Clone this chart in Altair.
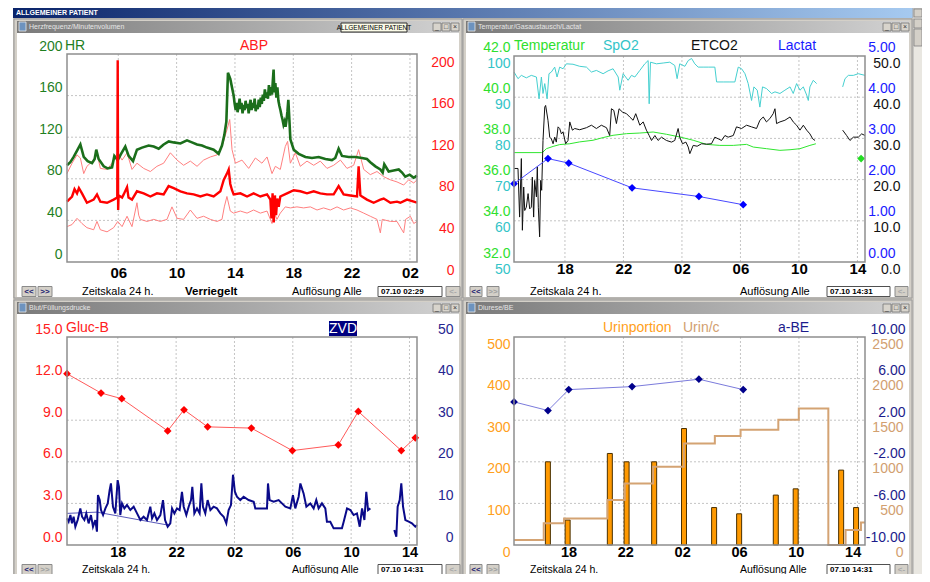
import altair as alt
import pandas as pd

FONT = "Liberation Sans"
W, H = 914, 566

# ---------------------------------------------------------------- data
# time values are hours since 06.10 00:00 (so 26 = 07.10 02:00)
HR_T = [2.48, 2.71, 2.94, 3.21, 3.40, 3.63, 3.90, 4.20, 4.38, 4.49, 4.65, 5.00, 5.27, 5.57, 5.73, 5.96, 6.19, 6.48, 6.71, 7.01,
        7.28, 7.63, 8.08, 8.43, 8.77, 9.11, 9.46, 9.80, 10.26, 10.71, 11.05, 11.40, 11.74, 12.08, 12.54, 12.88, 13.11, 13.27, 13.41, 13.52, 13.68,
        13.91, 13.98, 14.05, 14.12, 14.18, 14.25, 14.32, 14.38, 14.45, 14.52, 14.60, 14.66, 14.73, 14.80, 14.87, 14.94, 15.00, 15.07, 15.14, 15.21,
        15.28, 15.35, 15.42, 15.49, 15.56, 15.63, 15.70, 15.77, 15.84, 15.91, 15.98, 16.05, 16.12, 16.19, 16.26, 16.33, 16.40, 16.47, 16.54, 16.60,
        16.65, 16.70, 16.77, 16.84, 16.91, 16.98, 17.05, 17.12, 17.19, 17.26, 17.33, 17.40, 17.47, 17.54, 17.60, 17.66, 17.72, 17.80,
        18.03, 18.37, 18.83, 19.28, 19.74, 20.20, 20.65, 20.88, 21.11, 21.34, 21.80, 22.26, 22.71, 23.05, 23.28, 23.63, 23.97, 24.13, 24.24, 24.54,
        24.88, 25.23, 25.46, 25.68, 25.98, 26.26, 26.48]
HR_V = [93, 96, 101, 108, 113, 101, 97, 95, 99, 108, 99, 92, 90, 91, 102, 98, 104, 111, 102, 97,
        108, 110, 112, 111, 109, 113, 116, 115, 114, 117, 115, 113, 112, 110, 108, 104, 112, 122, 135, 182, 176,
        160, 152, 146, 153, 144, 150, 157, 147, 153, 143, 151, 146, 155, 148, 152, 143, 150, 156, 146, 153,
        148, 157, 145, 151, 147, 156, 149, 158, 152, 161, 155, 166, 158, 163, 157, 170, 160, 168, 161, 175,
        185, 163, 172, 158, 168, 155, 150, 146, 141, 137, 132, 135, 130, 137, 145, 156, 140, 118,
        108, 104, 101, 100, 101, 99, 98, 100, 109, 102, 101, 101, 100, 99, 96, 92, 89, 86, 94, 87,
        88, 89, 86, 82, 84, 81, 83]

ABPM_T = [2.48, 2.83, 3.00, 3.17, 3.30, 3.51, 3.85, 4.31, 4.54, 4.77, 5.23, 5.68, 5.93, 5.96, 5.99, 6.02, 6.26, 6.37, 6.60, 6.70,
          6.94, 7.28, 7.74, 8.20, 8.65, 9.11, 9.45, 9.80, 10.26, 10.71, 11.17, 11.63, 12.08, 12.54, 13.00, 13.23, 13.45, 13.57, 13.68, 13.80,
          13.91, 14.37, 14.83, 15.28, 15.74, 16.20, 16.43, 16.50, 16.58, 16.66, 16.74, 16.82, 16.90, 17.00, 17.11, 17.57, 18.03, 18.48, 18.94, 19.40,
          19.85, 20.31, 20.77, 21.11, 21.45, 21.91, 22.37, 22.48, 22.60, 22.71, 23.05, 23.51, 23.97, 24.20, 24.66, 25.11, 25.34, 25.80, 26.26, 26.48]
ABPM_V = [58, 63, 70, 66, 71, 66, 57, 60, 65, 58, 57, 60, 62, 194, 50, 64, 62, 65, 72, 62,
          60, 68, 66, 63, 66, 65, 73, 71, 68, 66, 65, 63, 65, 63, 68, 79, 85, 89, 75, 69,
          65, 66, 63, 66, 63, 65, 60, 42, 66, 38, 64, 45, 61, 53, 63, 66, 69, 68, 66, 68,
          66, 65, 65, 73, 65, 64, 63, 92, 64, 63, 60, 57, 60, 61, 57, 58, 57, 60, 58, 57]

ABPS_T = [2.48, 2.83, 3.17, 3.40, 3.63, 3.85, 4.31, 4.54, 4.77, 5.23, 5.57, 5.96, 6.26, 6.60, 6.94, 7.28, 7.74, 8.20, 8.65, 9.11,
          9.57, 10.03, 10.48, 10.94, 11.40, 11.85, 12.31, 12.77, 13.11, 13.45, 13.64, 13.80, 14.03, 14.48, 14.94, 15.40, 15.85, 16.20, 16.54, 16.77,
          17.11, 17.45, 17.61, 17.80, 18.14, 18.48, 18.94, 19.40, 19.85, 20.31, 20.77, 21.23, 21.68, 22.14, 22.48, 22.83, 23.28, 23.74, 24.20, 24.66,
          25.11, 25.57, 25.91, 26.26, 26.48]
ABPS_V = [85, 95, 103, 100, 85, 92, 98, 105, 90, 89, 95, 105, 98, 105, 89, 95, 90, 87, 92, 95,
          105, 98, 93, 97, 92, 98, 101, 103, 111, 127, 137, 108, 95, 98, 90, 100, 95, 101, 85, 92,
          89, 111, 116, 95, 105, 92, 97, 93, 97, 90, 93, 98, 90, 93, 108, 89, 84, 87, 82, 79,
          77, 74, 79, 76, 79]

ABPD_T = [2.48, 2.83, 3.17, 3.51, 3.85, 4.31, 4.54, 4.77, 5.23, 5.68, 5.96, 6.26, 6.60, 6.94, 7.28, 7.40, 7.51, 7.97, 8.43, 8.88,
          9.34, 9.68, 10.03, 10.48, 10.94, 11.40, 11.85, 12.31, 12.77, 13.11, 13.27, 13.45, 13.68, 13.91, 14.37, 14.83, 15.28, 15.74, 16.20, 16.54,
          16.70, 16.88, 17.11, 17.45, 17.80, 18.25, 18.71, 19.17, 19.63, 20.08, 20.54, 21.00, 21.45, 21.91, 22.37, 22.83, 23.28, 23.74, 23.97, 24.10,
          24.66, 25.11, 25.57, 25.70, 26.03, 26.26, 26.48]
ABPD_V = [34, 36, 42, 37, 33, 31, 39, 31, 29, 33, 39, 34, 44, 34, 57, 45, 41, 39, 41, 39,
          41, 53, 42, 41, 50, 42, 44, 41, 39, 41, 53, 63, 49, 47, 49, 47, 50, 47, 49, 37,
          47, 41, 47, 53, 52, 53, 52, 53, 50, 52, 50, 53, 50, 52, 50, 47, 44, 41, 28, 41,
          39, 39, 28, 41, 44, 37, 39]

SPO2_T1 = [14.52, 14.79, 15.02, 15.36, 15.70, 16.05, 16.23, 16.39, 16.50, 16.62, 16.78, 16.91, 17.07, 17.30, 17.46, 17.64, 17.87, 18.10, 18.55, 19.01,
           19.47, 19.81, 20.15, 20.61, 20.95, 21.29, 21.64, 21.75, 21.98, 22.32, 22.55, 22.78, 23.12, 23.46, 23.69, 23.76, 23.85, 24.26, 24.72, 25.17,
           25.51, 25.67, 25.85, 26.20, 26.43, 26.66, 26.88, 27.11, 27.45, 27.80, 28.25, 28.37, 28.82, 29.28, 29.62, 29.85, 30.08, 30.31, 30.53, 30.76,
           30.92, 31.15, 31.33, 31.51, 31.78, 32.13, 32.36, 32.70, 33.04, 33.39, 33.61, 33.84, 34.07, 34.30, 34.53, 34.64, 34.75, 34.98, 35.21]
SPO2_V1 = [96.1, 94.5, 95.3, 94.7, 95.3, 94.9, 89.6, 94.9, 90.9, 93.3, 89.6, 95.7, 96.1, 97.3, 94.9, 97.3, 96.9, 98.1, 98.0, 97.5,
           97.3, 96.1, 96.5, 95.7, 96.4, 96.9, 94.9, 91.7, 95.7, 94.1, 95.3, 94.9, 96.5, 98.1, 98.9, 88.4, 98.5, 98.1, 98.3, 98.5,
           97.7, 94.5, 98.1, 97.5, 98.9, 99.4, 98.1, 97.3, 97.3, 97.3, 97.3, 93.7, 93.7, 93.7, 93.7, 97.3, 96.9, 95.7, 93.3, 89.2,
           92.5, 91.7, 87.6, 92.5, 92.1, 90.9, 91.3, 90.9, 91.7, 92.5, 90.9, 93.3, 91.7, 92.5, 90.5, 89.2, 92.5, 94.1, 93.3]
SPO2_T2 = [36.99, 37.15, 37.38, 37.72, 38.06, 38.52]
SPO2_V2 = [92.5, 94.5, 95.3, 95.3, 95.7, 95.3]

ETCO2_T1 = [14.52, 14.79, 14.90, 15.02, 15.09, 15.18, 15.25, 15.36, 15.48, 15.59, 15.70, 15.77, 15.86, 15.93, 16.05, 16.11, 16.18, 16.27, 16.34, 16.41,
            16.50, 16.62, 16.68, 16.84, 16.96, 17.07, 17.19, 17.30, 17.41, 17.53, 17.64, 17.76, 17.87, 18.05, 18.21, 18.33, 18.51, 18.67, 19.01, 19.47,
            19.81, 20.15, 20.49, 20.84, 21.06, 21.18, 21.34, 21.52, 21.70, 21.93, 22.21, 22.43, 22.66, 22.84, 23.12, 23.35, 23.57, 23.76, 23.92, 24.15,
            24.37, 24.60, 24.94, 25.29, 25.51, 25.74, 25.85, 26.04, 26.27, 26.43, 26.54, 26.77, 27.04, 27.34, 27.68, 28.02, 28.25, 28.48, 28.71, 28.94,
            29.16, 29.51, 29.73, 30.08, 30.42, 30.76, 31.10, 31.33, 31.56, 31.78, 32.01, 32.24, 32.36, 32.47, 32.70, 33.04, 33.39, 33.61, 33.84, 34.07,
            34.30, 34.53, 34.75, 34.94, 35.10]
ETCO2_V1 = [22.7, 22.7, 10.9, 25.1, 7.7, 18.2, 12.5, 13.3, 16.6, 12.9, 13.3, 20.6, 10.9, 19.8, 15.8, 23.1, 13.3, 6.1, 19.8, 17.4,
            29.5, 37.6, 38.0, 34.4, 30.3, 29.9, 28.7, 30.3, 29.1, 32.8, 32.4, 31.1, 31.6, 28.7, 29.5, 34.0, 32.0, 32.4, 32.1, 32.6,
            33.2, 32.4, 33.2, 32.6, 30.7, 37.2, 36.8, 33.6, 37.2, 36.4, 36.0, 35.2, 34.4, 36.0, 33.2, 34.0, 32.0, 30.7, 29.5, 30.7,
            29.5, 30.3, 29.5, 29.1, 29.5, 32.4, 30.3, 28.7, 29.1, 27.9, 26.3, 28.3, 28.1, 28.7, 28.6, 28.7, 30.3, 29.9, 29.5, 30.7,
            30.3, 30.7, 32.8, 32.4, 33.2, 32.8, 32.4, 34.4, 35.2, 34.0, 34.8, 36.0, 37.2, 33.6, 34.0, 34.4, 35.2, 34.0, 33.2, 32.0,
            33.2, 32.0, 31.1, 29.9, 29.5]
ETCO2_T2 = [36.99, 37.26, 37.49, 37.72, 38.06, 38.29, 38.52]
ETCO2_V2 = [32.0, 30.7, 29.5, 30.3, 30.3, 31.1, 30.7]

TEMP_T = [14.52, 16.39, 16.50, 16.73, 17.19, 17.64, 18.33, 19.01, 19.92, 20.61, 21.29, 22.21, 23.12, 24.03, 24.94, 25.85, 26.77, 27.68, 28.59, 29.51,
          30.42, 30.88, 31.79, 32.70, 33.39, 34.07, 34.75, 35.16]
TEMP_V = [37.31, 37.31, 37.34, 37.50, 37.61, 37.70, 37.74, 37.83, 37.91, 38.04, 38.15, 38.23, 38.26, 38.31, 38.20, 38.07, 37.91, 37.71, 37.66, 37.66,
          37.71, 37.58, 37.50, 37.42, 37.45, 37.50, 37.66, 37.74]
TEMP_PT_T = [38.25]
TEMP_PT_V = [37.02]

LACT_T = [14.52, 16.84, 18.26, 22.59, 27.16, 30.19]
LACT_V = [1.90, 2.51, 2.40, 1.80, 1.59, 1.39]

GLUC_T = [14.52, 16.85, 18.27, 21.42, 22.54, 24.16, 27.16, 29.97, 33.12, 34.49, 37.44, 38.40]
GLUC_V = [12.35, 10.96, 10.55, 8.23, 9.75, 8.52, 8.43, 6.81, 7.22, 9.63, 6.81, 7.73]

ZVD_T1 = [14.52, 14.63, 14.75, 14.86, 14.97, 15.09, 15.25, 15.43, 15.55, 15.71,
          15.84, 16.00, 16.16, 16.30, 16.46, 16.57, 16.64, 16.76, 16.85, 16.99,
          17.15, 17.31, 17.44, 17.53, 17.67, 17.83, 17.99, 18.08, 18.17, 18.29,
          18.45, 18.63, 18.86, 19.09, 19.32, 19.55, 19.77, 20.00, 20.23, 20.35,
          20.51, 20.69, 20.92, 21.10, 21.24, 21.42, 21.60, 21.72, 21.88, 22.06,
          22.24, 22.40, 22.52, 22.70, 22.86, 23.02, 23.11, 23.25, 23.43, 23.61,
          23.73, 23.84, 24.00, 24.16, 24.35, 24.57, 24.80, 25.03, 25.26, 25.44,
          25.60, 25.76, 25.90, 26.03, 26.17, 26.40, 26.63, 26.97, 27.32, 27.43,
          27.77, 28.23, 28.30, 28.41, 28.69, 29.03, 29.26, 29.49, 29.83, 30.01,
          30.17, 30.40, 30.52, 30.74, 30.93, 31.20, 31.43, 31.61, 31.77, 32.00,
          32.23, 32.34, 32.57, 32.80, 33.15, 33.37, 33.49, 33.72, 33.95, 34.17,
          34.40, 34.59, 34.75, 34.91, 35.04, 35.16, 35.32]
ZVD_V1 = [6.4, 5.6, 7.2, 5.2, 6.8, 4.4, 6.0, 8.8, 6.8, 6.0,
          7.6, 5.2, 7.2, 4.4, 6.0, 3.2, 12.0, 10.8, 8.4, 7.2,
          8.8, 10.0, 13.2, 14.8, 9.2, 7.6, 15.6, 14.0, 7.2, 10.0,
          8.8, 9.6, 8.4, 9.2, 7.6, 6.0, 6.8, 6.0, 9.2, 6.4,
          7.6, 6.0, 7.2, 10.8, 6.0, 4.4, 5.2, 8.8, 7.6, 8.8,
          8.4, 12.8, 9.2, 7.2, 9.2, 10.8, 14.0, 7.6, 8.8, 7.6,
          14.8, 9.2, 7.6, 10.8, 8.4, 9.2, 8.8, 7.6, 6.8, 5.2,
          8.4, 9.6, 16.9, 12.8, 11.6, 10.8, 11.6, 10.8, 10.4, 8.8,
          8.8, 8.8, 14.8, 10.8, 10.4, 10.8, 10.0, 9.2, 8.8, 12.0,
          8.8, 11.6, 14.8, 12.4, 9.2, 10.0, 8.8, 10.8, 8.8, 10.0,
          8.8, 5.6, 5.6, 4.0, 4.0, 4.0, 5.6, 8.8, 8.4, 7.2,
          7.6, 4.4, 8.8, 6.0, 12.8, 8.4, 8.8]
ZVD_T2 = [36.96, 37.10, 37.19, 37.33, 37.44, 37.56, 37.72, 37.95, 38.17, 38.40, 38.52]
ZVD_V2 = [3.6, 2.0, 9.2, 10.8, 14.8, 9.2, 6.0, 5.6, 5.2, 4.4, 4.8]
ZVD_MAN_T = [14.52, 16.57, 21.42]
ZVD_MAN_V = [7.6, 7.9, 4.8]

URIN_T = [16.55, 17.94, 20.91, 22.09, 24.03, 26.13, 28.25, 30.01, 32.59, 33.99, 37.19, 38.24]
URIN_V = [200, 60, 220, 200, 200, 280, 90, 75, 120, 135, 180, 90]
URINC_T = [14.52, 16.55, 17.94, 20.91, 22.09, 24.03, 26.13, 28.25, 30.01, 32.59, 33.99, 36.01, 37.19, 38.24, 38.52]
URINC_V = [60, 260, 320, 540, 740, 940, 1220, 1310, 1385, 1505, 1640, 0, 180, 270, 270]

ABE_T = [14.52, 16.84, 18.26, 22.59, 27.16, 30.19]
ABE_V = [3.76, 2.93, 4.94, 5.23, 5.94, 4.94]

X_TICKS_P1 = [6, 10, 14, 18, 22, 26]
X_TICKS = [18, 22, 26, 30, 34, 38]
HR_TICKS = [0, 40, 80, 120, 160, 200]
TEMP_TICKS = [32, 34, 36, 38, 40, 42]
SPO2_TICKS = [50, 60, 70, 80, 90, 100]
ETCO2_TICKS = [0, 10, 20, 30, 40, 50]
LACT_TICKS = [0, 1, 2, 3, 4, 5]
GLUC_TICKS = [0, 3, 6, 9, 12, 15]
ZVD_TICKS = [0, 10, 20, 30, 40, 50]
URIN_TICKS = [0, 100, 200, 300, 400, 500]
URINC_TICKS = [0, 500, 1000, 1500, 2000, 2500]
ABE_TICKS = [-10, -6, -2, 2, 6, 10]

# ---------------------------------------------------------------- helpers
def X(v):
    return v - 8


def Y(v):
    return v - 8


ONE = pd.DataFrame({"k": [0]})
LAYERS = []


def rect(x0, y0, x1, y1, fill=None, stroke=None, sw=1.0):
    kw = {}
    if fill is None:
        kw["fillOpacity"] = 0
    else:
        kw["fill"] = fill
    if stroke is not None:
        kw["stroke"] = stroke
        kw["strokeWidth"] = sw
    LAYERS.append(alt.Chart(ONE).mark_rect(**kw).encode(
        x=alt.value(X(x0)), x2=alt.value(X(x1)), y=alt.value(Y(y0)), y2=alt.value(Y(y1))))


def text(x, y, s, color="#000000", size=11, weight="normal", align="left"):
    LAYERS.append(alt.Chart(ONE).mark_text(
        text=s, color=color, fontSize=size, fontWeight=weight, align=align,
        baseline="middle", font=FONT).encode(x=alt.value(X(x)), y=alt.value(Y(y))))


def grad(c0, c1):
    return alt.LinearGradient(gradient="linear", x1=0, x2=1, y1=0, y2=0,
                              stops=[alt.GradientStop(color=c0, offset=0),
                                     alt.GradientStop(color=c1, offset=1)])


def sc(dom, r0, r1):
    return alt.Scale(domain=dom, range=[r0, r1], nice=False, zero=False)


def yaxis(side, edge, vals, color, pad, loff, fmt=None, expr=None):
    kw = dict(orient=side, values=vals, title=None, domain=False, ticks=False, tickSize=0, grid=False,
              labelColor=color, labelFont=FONT, labelFontSize=14, labelPadding=pad, labelOffset=loff,
              labelAlign="right", labelBaseline="middle", labelOverlap=False, labelFlush=False,
              labelBound=False, zindex=2)
    kw["offset"] = -X(edge) if side == "left" else X(edge) - W
    if fmt is not None:
        kw["format"] = fmt
    if expr is not None:
        kw["labelExpr"] = expr
    return alt.Axis(**kw)


def xaxis(bottom, vals, pad, size=15):
    return alt.Axis(orient="bottom", offset=Y(bottom) - H, values=vals, title=None, domain=False,
                    ticks=False, tickSize=0, grid=False, labelColor="#000000", labelFont=FONT,
                    labelFontSize=size, labelFontWeight="bold", labelPadding=pad, labelBaseline="middle",
                    labelAlign="center", labelOverlap=False, labelFlush=False, labelBound=False, zindex=2,
                    labelExpr="pad(toString(datum.value % 24), 2, '0', 'left')")


def series(T, V, xs, ys, kind="line", xax=None, yax=None, T2=None, V2=None, **mk):
    if T2 is not None:
        df = pd.DataFrame({"t": list(T) + list(T2), "v": list(V) + list(V2),
                           "seg": ["a"] * len(T) + ["b"] * len(T2)})
    else:
        df = pd.DataFrame({"t": T, "v": V})
    enc = dict(x=alt.X("t:Q", scale=xs, axis=xax), y=alt.Y("v:Q", scale=ys, axis=yax))
    if T2 is not None:
        enc["detail"] = alt.Detail("seg:N")
    base = alt.Chart(df)
    if kind == "line":
        m = base.mark_line(**mk)
    elif kind == "point":
        m = base.mark_point(shape="diamond", filled=True, opacity=1, **mk)
    else:
        m = base.mark_bar(**mk)
    LAYERS.append(m.encode(**enc))


def grid(xs, ys, xt, yt, l, t, r, b):
    gcol = "#c4c4c4"
    LAYERS.append(alt.Chart(pd.DataFrame({"t": xt})).mark_rule(
        color=gcol, strokeDash=[2, 2], strokeWidth=1).encode(
        x=alt.X("t:Q", scale=xs, axis=None), y=alt.value(Y(t)), y2=alt.value(Y(b))))
    LAYERS.append(alt.Chart(pd.DataFrame({"v": yt})).mark_rule(
        color=gcol, strokeDash=[2, 2], strokeWidth=1).encode(
        y=alt.Y("v:Q", scale=ys, axis=None), x=alt.value(X(l)), x2=alt.value(X(r))))


def button(x0, y0, x1, y1, s, tcol):
    rect(x0, y0, x1, y1, "#d4d0c8", "#8a8a8a", 1)
    text((x0 + x1) / 2, (y0 + y1) / 2 + 0.5, s, tcol, 8, "bold", "center")


def window(x0, y0, x1, y1, title, status_y, left_panel, date, locked=False, fs=11):
    rect(x0, y0, x1, y1, "#d4d0c8", "#9a9a9a", 1)
    rect(x0 + 3, y0 + 2, x1 - 3, y0 + 14, grad("#7a7a7a", "#d2d2d2"))
    rect(x0 + 5, y0 + 3, x0 + 12, y0 + 12, "#6d93bf", "#e8e8e8", 0.8)
    text(x0 + 15, y0 + 8, title, "#e6e6e6", 7)
    for i, g in enumerate(["_", "\u25a1", "\u00d7"]):
        bx = x1 - 29 + i * 9
        rect(bx, y0 + 4, bx + 8, y0 + 12, "#d8d4cc", "#777777", 0.8)
        text(bx + 4, y0 + 8, g, "#333333", 7, "normal", "center")
    rect(x0 + 3, y0 + 14, x1 - 3, y1 - 1, "#ffffff")
    # status bar
    sy = status_y
    if left_panel:
        button(22, sy - 5, 36, sy + 5, "<<", "#1a1a70")
        button(38, sy - 5, 52, sy + 5, ">>", "#1a1a70" if locked else "#a0a0a0")
        text(82, sy, "Zeitskala 24 h.", size=fs)
        if locked:
            text(185, sy, "Verriegelt", "#000000", 11.5, "bold")
        text(292, sy, "Aufl\u00f6sung Alle", size=fs)
        rect(378, sy - 5, 442, sy + 5, "#ffffff", "#505050", 1)
        text(381, sy, date, "#000000", 8, "bold")
        button(446, sy - 5, 460, sy + 5, "<-", "#a8a8a8")
    else:
        button(470, sy - 5, 482, sy + 5, "<<", "#1a1a70")
        button(487, sy - 5, 499, sy + 5, ">>", "#a0a0a0")
        text(530, sy, "Zeitskala 24 h.", size=fs)
        text(740, sy, "Aufl\u00f6sung Alle", size=fs)
        rect(827, sy - 5, 890, sy + 5, "#ffffff", "#505050", 1)
        text(830, sy, date, "#000000", 8, "bold")
        button(895, sy - 5, 908, sy + 5, "<-", "#a8a8a8")


# ---------------------------------------------------------------- chrome
rect(13, 8, 913, 18, grad("#0a246a", "#a6caf0"))
text(16, 13, "ALLGEMEINER PATIENT", "#ffffff", 7, "bold")
rect(913, 8, 923, 582, "#e9e7e1", "#a8a8a8", 1)
rect(914, 9, 922, 17, "#d4d0c8", "#808080", 0.8)
rect(914, 19, 922, 28, "#d4d0c8", "#808080", 0.8)
rect(914, 29, 922, 46, "#d4d0c8", "#808080", 0.8)
rect(13, 18, 913, 582, "#c6c2ba")

window(14, 19, 462, 298, "Herzfrequenz/Minutenvolumen", 291.5, True, "07.10 02:29", locked=True)
rect(341, 23, 407, 32, "#fbfbe8", "#303030", 1)
text(374, 27.5, "ALLGEMEINER PATIENT", "#000000", 6.5, "normal", "center")
window(463, 19, 912, 298, "Temperatur/Gasaustausch/Lactat", 291.5, False, "07.10 14:31")
window(14, 300, 462, 584, "Blut/F\u00fcllungsdrucke", 569.5, True, "07.10 14:31", fs=10.5)
window(463, 300, 912, 584, "Diurese/BE", 569.5, False, "07.10 14:31", fs=10.5)

# ---------------------------------------------------------------- panel 1
P1X = sc([2.483, 26.483], X(67), X(417))
P1Y = sc([0, 200], Y(262), Y(54))
grid(P1X, P1Y, X_TICKS_P1, [40, 80, 120, 160], 67, 54, 417, 262)
series(ABPS_T, ABPS_V, P1X, P1Y, color="#ff8080", strokeWidth=1)
series(ABPD_T, ABPD_V, P1X, P1Y, color="#ff8080", strokeWidth=1)
series(HR_T, HR_V, P1X, P1Y, color="#1b6e1b", strokeWidth=2.6,
       xax=xaxis(262, X_TICKS_P1, 10),
       yax=yaxis("left", 67, HR_TICKS, "#1f7f1f", 5, -8, fmt="d"))
series(ABPM_T, ABPM_V, P1X, P1Y, color="#ff0000", strokeWidth=2.4,
       yax=yaxis("right", 417, HR_TICKS, "#ff1a1a", 37, 8, fmt="d"))
rect(67, 54, 417, 262, None, "#8e8e8e", 1.5)
text(65, 46, "HR", "#1f7f1f", 14)
text(254, 46, "ABP", "#ff1a1a", 14, "normal", "center")

# ---------------------------------------------------------------- panel 2
P2X = sc([14.517, 38.517], X(514), X(865))
TY = sc([32, 42], Y(262), Y(56))
SY = sc([50, 100], Y(262), Y(56))
EY = sc([0, 50], Y(262), Y(56))
LY = sc([0, 5], Y(262), Y(56))
grid(P2X, TY, X_TICKS, [34, 36, 38, 40], 514, 56, 865, 262)
series(SPO2_T1, SPO2_V1, P2X, SY, T2=SPO2_T2, V2=SPO2_V2, color="#45d0d0", strokeWidth=1,
       yax=yaxis("left", 514, SPO2_TICKS, "#33c4c8", 4, 7, fmt="d"))
series(TEMP_T, TEMP_V, P2X, TY, color="#2fe62f", strokeWidth=1,
       xax=xaxis(262, X_TICKS, 6.5),
       yax=yaxis("left", 514, TEMP_TICKS, "#2ee02e", 4, -9, fmt=".1f"))
series(TEMP_PT_T, TEMP_PT_V, P2X, TY, kind="point", color="#22dd22", size=60)
series(ETCO2_T1, ETCO2_V1, P2X, EY, T2=ETCO2_T2, V2=ETCO2_V2, color="#111111", strokeWidth=1,
       yax=yaxis("right", 865, ETCO2_TICKS, "#111111", 35, 7, fmt=".1f"))
series(LACT_T, LACT_V, P2X, LY, color="#4848ff", strokeWidth=1,
       yax=yaxis("right", 865, LACT_TICKS, "#1a1aff", 30, -9, fmt=".2f"))
series(LACT_T, LACT_V, P2X, LY, kind="point", color="#0000ff", size=60)
rect(514, 56, 865, 262, None, "#8e8e8e", 1.5)
text(514, 46, "Temperatur", "#2ee02e", 14)
text(603, 46, "SpO2", "#33c4c8", 14)
text(691, 46, "ETCO2", "#111111", 14)
text(778, 46, "Lactat", "#1a1aff", 14)

# ---------------------------------------------------------------- panel 3
P3X = sc([14.517, 38.517], X(67), X(417))
GY = sc([0, 15], Y(545), Y(337))
ZY = sc([0, 50], Y(545), Y(337))
grid(P3X, GY, X_TICKS, [3, 6, 9, 12], 67, 337, 417, 545)
series(ZVD_MAN_T, ZVD_MAN_V, P3X, ZY, color="#3030a8", strokeWidth=0.8)
series(ZVD_T1, ZVD_V1, P3X, ZY, T2=ZVD_T2, V2=ZVD_V2, color="#0a0a8a", strokeWidth=2,
       xax=xaxis(545, X_TICKS, 7.5, 14.5),
       yax=yaxis("right", 417, ZVD_TICKS, "#262690", 36, -8, fmt="d"))
series(GLUC_T, GLUC_V, P3X, GY, color="#ff5a5a", strokeWidth=1,
       yax=yaxis("left", 67, GLUC_TICKS, "#ff2020", 5, -8, fmt=".1f"))
series(GLUC_T, GLUC_V, P3X, GY, kind="point", color="#ff0000", size=60)
rect(67, 337, 417, 545, None, "#8e8e8e", 1.5)
text(66, 328, "Gluc-B", "#ff2020", 14)
rect(329, 321, 357, 336, "#000080")
text(343, 328.5, "ZVD", "#ffffff", 14, "normal", "center")

# ---------------------------------------------------------------- panel 4
P4X = sc([14.517, 38.517], X(514), X(865))
UY = sc([0, 500], Y(545), Y(337))
CY = sc([0, 2500], Y(545), Y(337))
BY = sc([-10, 10], Y(545), Y(337))
grid(P4X, UY, X_TICKS, [100, 200, 300, 400], 514, 337, 865, 545)
series(URIN_T, URIN_V, P4X, UY, kind="bar", size=5, color="#ff9900", stroke="#4a3000", strokeWidth=1,
       xax=xaxis(545, X_TICKS, 7.5, 14.5),
       yax=yaxis("left", 514, URIN_TICKS, "#ffa020", 4, 7, fmt="d"))
series(URINC_T, URINC_V, P4X, CY, color="#d4a373", strokeWidth=2, interpolate="step-after",
       yax=yaxis("right", 865, URINC_TICKS, "#d2a070", 38, 7, fmt="d"))
series(ABE_T, ABE_V, P4X, BY, color="#7b7bdc", strokeWidth=1,
       yax=yaxis("right", 865, ABE_TICKS, "#1c1c8c", 40, -8,
                 expr="(datum.value < 0 ? '-' : '') + format(abs(datum.value), '.2f')"))
series(ABE_T, ABE_V, P4X, BY, kind="point", color="#00008b", size=60)
rect(514, 337, 865, 545, None, "#8e8e8e", 1.5)
text(603, 328, "Urinportion", "#ffa020", 14)
text(683, 328, "Urin/c", "#d2a070", 14)
text(778, 328, "a-BE", "#1c1c8c", 14)

chart = (alt.layer(*LAYERS)
         .resolve_scale(x="independent", y="independent")
         .resolve_axis(x="independent", y="independent")
         .properties(width=W, height=H, autosize=alt.AutoSizeParams(type="none"), padding=0,
                     background="#ffffff")
         .configure_view(strokeWidth=0))

chart.save("out.html", embed_options={"renderer": "svg", "actions": False})
